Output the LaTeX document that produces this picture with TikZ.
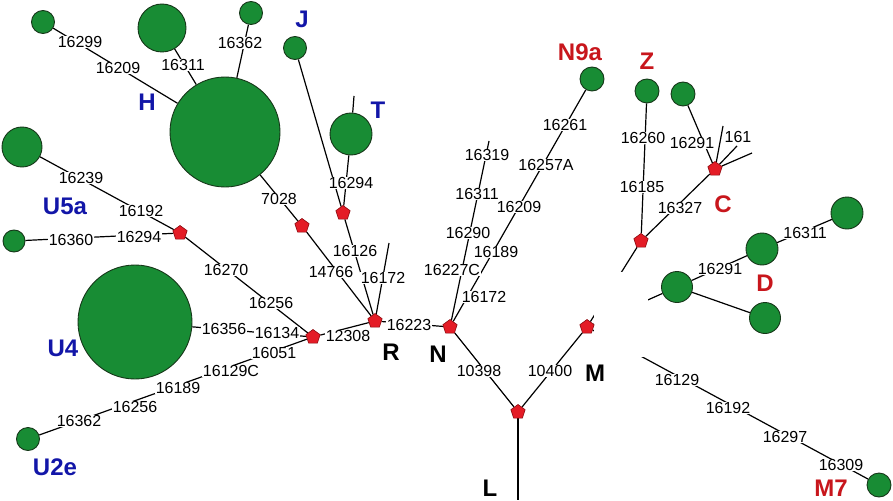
\documentclass[tikz,border=0pt]{standalone}
\usepackage{fontspec}
\setmainfont{Liberation Sans}
\usetikzlibrary{shapes.geometric}
\pgfdeclarelayer{bg}
\pgfdeclarelayer{paper}
\pgfsetlayers{paper,bg,main}
\definecolor{hapgreen}{RGB}{24,140,52}
\definecolor{hapedge}{RGB}{22,55,25}
\definecolor{medred}{RGB}{228,28,38}
\definecolor{mededge}{RGB}{140,10,15}
\definecolor{labblue}{RGB}{18,22,168}
\definecolor{labred}{RGB}{200,22,28}
\tikzset{
  hap/.style={circle, fill=hapgreen, draw=hapedge, line width=0.9pt, inner sep=0pt, minimum size=#1},
  mv/.style={regular polygon, regular polygon sides=5, fill=medred, draw=mededge, line width=0.6pt, inner sep=0pt, minimum size=15pt},
  mut/.style={fill=white, inner sep=0.8pt, font=\fontsize{16}{17}\selectfont},
  hgblue/.style={font=\fontsize{24}{26}\selectfont\bfseries, text=labblue, inner sep=0pt},
  hgred/.style={font=\fontsize{24}{26}\selectfont\bfseries, text=labred, inner sep=0pt},
  hgblack/.style={font=\fontsize{24}{26}\selectfont\bfseries, text=black, inner sep=0pt},
  link/.style={line width=1.2pt, black},
  veil/.style={fill=white, draw=none}
}
\begin{document}
\begin{tikzpicture}[x=1pt,y=-1pt]
\begin{pgfonlayer}{paper}
\fill[white] (0,0) rectangle (893,500);
\end{pgfonlayer}
\useasboundingbox (0,0) rectangle (893,500);
% haplotype circles
\node[hap=110pt] (H) at (225,132) {};
\node[hap=23pt] (h16299) at (43,22) {};
\node[hap=48pt] (h16311) at (162,28) {};
\node[hap=23pt] (h16362) at (251,13) {};
\node[hap=40pt] (U5a) at (22,147) {};
\node[hap=22pt] (U5b) at (14,241) {};
\node[hap=23pt] (J) at (295,48) {};
\node[hap=42pt] (T) at (351,134) {};
\node[hap=114pt] (U4) at (135,322) {};
\node[hap=23pt] (U2e) at (28,439) {};
\node[hap=24pt] (N9a) at (592,79) {};
\node[hap=24pt] (Z) at (647,91) {};
\node[hap=24pt] (Cleaf) at (683,94) {};
\node[hap=31pt] (D1) at (677,287) {};
\node[hap=32pt] (D2) at (762,249) {};
\node[hap=32pt] (D3) at (847,213) {};
\node[hap=31pt] (D4) at (765,318) {};
\node[hap=24pt] (M7) at (879,485) {};
% median vectors
\node[mv] (pU5) at (180,233) {};
\node[mv] (p7028) at (302,226) {};
\node[mv] (pT) at (343,213) {};
\node[mv] (R) at (375,321) {};
\node[mv] (pU) at (313,337) {};
\node[mv] (N) at (450,327) {};
\node[mv] (M) at (587,327) {};
\node[mv] (L) at (518,412) {};
\node[mv] (pZ) at (641,241) {};
\node[mv] (C) at (715,169) {};
% free ends
\coordinate (Lend) at (518,500);
\coordinate (tTop) at (354,96);
\coordinate (rTop) at (389,243);
\coordinate (nTop) at (489,141);
\coordinate (c1) at (723,126);
\coordinate (c2) at (737,146);
\coordinate (c3) at (752,153);
% mutation labels
\node[mut] (l1) at (80,42) {16299};
\node[mut] (l2) at (118,68) {16209};
\node[mut] (l3) at (183,65) {16311};
\node[mut] (l4) at (240,43) {16362};
\node[mut] (l5) at (81,178) {16239};
\node[mut] (l6) at (141,211) {16192};
\node[mut] (l7) at (71,240) {16360};
\node[mut] (l8) at (139,237) {16294};
\node[mut] (l9) at (279,199) {7028};
\node[mut] (l10) at (351,183) {16294};
\node[mut] (l11) at (355,251) {16126};
\node[mut] (l12) at (331,272) {14766};
\node[mut] (l13) at (383,278) {16172};
\node[mut] (l14) at (226,270) {16270};
\node[mut] (l15) at (271,303) {16256};
\node[mut] (l16) at (224,329) {16356};
\node[mut] (l17) at (277,333) {16134};
\node[mut] (l18) at (348,336) {12308};
\node[mut] (l19) at (274,353) {16051};
\node[mut] (l20) at (231,371) {16129C};
\node[mut] (l21) at (178,388) {16189};
\node[mut] (l22) at (135,407) {16256};
\node[mut] (l23) at (79,421) {16362};
\node[mut] (l24) at (409,325) {16223};
\node[mut] (l25) at (487,155) {16319};
\node[mut] (l26) at (477,194) {16311};
\node[mut] (l27) at (468,233) {16290};
\node[mut] (l28) at (452,270) {16227C};
\node[mut] (l29) at (565,125) {16261};
\node[mut] (l30) at (546,165) {16257A};
\node[mut] (l31) at (519,207) {16209};
\node[mut] (l32) at (496,252) {16189};
\node[mut] (l33) at (484,297) {16172};
\node[mut] (l34) at (643,138) {16260};
\node[mut] (l35) at (692,143) {16291};
\node[mut] (l36) at (738,137) {161};
\node[mut] (l37) at (642,187) {16185};
\node[mut] (l38) at (680,208) {16327};
\node[mut] (l39) at (805,233) {16311};
\node[mut] (l40) at (720,269) {16291};
\node[mut] (l41) at (479,371) {10398};
\node[mut] (l42) at (550,371) {10400};
\node[mut] (l43) at (677,380) {16129};
\node[mut] (l44) at (728,408) {16192};
\node[mut] (l45) at (785,437) {16297};
\node[mut] (l46) at (841,465) {16309};
% haplogroup labels
\node[hgblue] (tH) at (147,102) {H};
\node[hgblue] (tU5a) at (65,206) {U5a};
\node[hgblue] (tU4) at (63,348) {U4};
\node[hgblue] (tU2e) at (55,467) {U2e};
\node[hgblue] (tJ) at (302,19) {J};
\node[hgblue] (tT) at (378,110) {T};
\node[hgblack] (tR) at (391,352) {R};
\node[hgblack] (tN) at (438,354) {N};
\node[hgblack] (tM) at (595,373) {M};
\node[hgblack] (tL) at (490,488) {L};
\node[hgred] (tN9a) at (580,52) {N9a};
\node[hgred] (tZ) at (647,61) {Z};
\node[hgred] (tC) at (723,204) {C};
\node[hgred] (tD) at (765,283) {D};
\node[hgred] (tM7) at (831,488) {M7};
% connectors
\begin{pgfonlayer}{bg}
\draw[link] (h16299) -- (H);
\draw[link] (h16311) -- (H);
\draw[link] (h16362) -- (H);
\draw[link] (H) -- (p7028) -- (R);
\draw[link] (J) -- (pT) -- (R);
\draw[link] (T) -- (pT);
\draw[link] (T) -- (tTop);
\draw[link] (R) -- (rTop);
\draw[link] (U5a) -- (pU5);
\draw[link] (U5b) -- (pU5);
\draw[link] (pU5) -- (pU);
\draw[link] (U4) -- (pU);
\draw[link] (U2e) -- (pU);
\draw[link] (pU) -- (R);
\draw[link] (R) -- (N);
\draw[link] (N) -- (nTop);
\draw[link] (N) -- (N9a);
\draw[link] (N) -- (L);
\draw[link] (M) -- (L);
\draw[link] (L) -- (Lend);
\draw[link] (M) -- (pZ);
\draw[link] (pZ) -- (Z);
\draw[link] (pZ) -- (C);
\draw[link] (C) -- (Cleaf);
\draw[link] (C) -- (c1);
\draw[link] (C) -- (c2);
\draw[link] (C) -- (c3);
\draw[link] (D1) -- (D2);
\draw[link] (D2) -- (D3);
\draw[link] (D1) -- (D4);
\draw[link] (M) -- (D1);
\draw[link] (M) -- (M7);
\fill[veil] (594,272) rectangle (648,357);
\end{pgfonlayer}
\end{tikzpicture}
\end{document}
